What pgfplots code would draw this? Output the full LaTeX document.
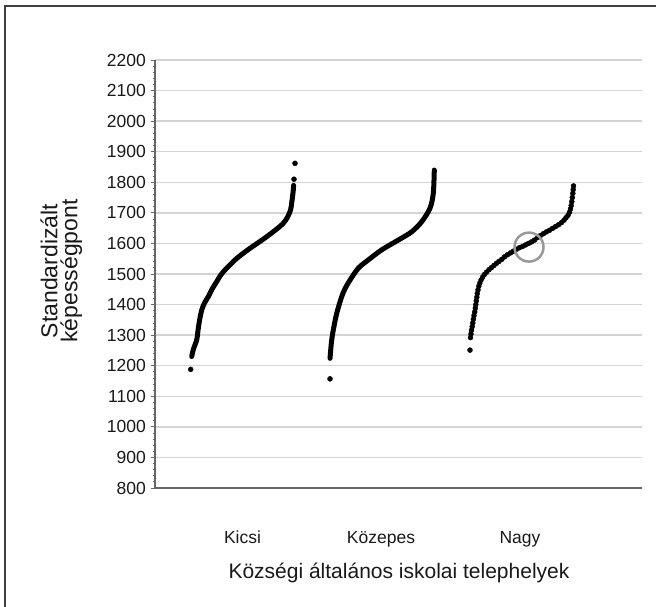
\documentclass[border=0pt]{standalone}
\usepackage{fontspec}
\setmainfont{Liberation Sans}
\usepackage{pgfplots}
\pgfplotsset{compat=1.18}

\begin{document}
\begin{tikzpicture}
\path[use as bounding box] (0pt,0pt) rectangle (656pt,607pt);
% outer frame (left and top edges only are visible)
\draw[line width=2pt, black!75] (5pt,0pt) -- (5pt,600.5pt) -- (656pt,600.5pt);
\begin{axis}[
  at={(155pt,119pt)}, anchor=south west,
  width=487pt, height=428pt, scale only axis,
  xmin=0, xmax=487, ymin=800, ymax=2200,
  axis x line*=bottom, axis y line*=left,
  axis line style={black!60, line width=1.2pt},
  ytick distance=100, minor y tick num=4,
  tick align=outside,
  major tick length=4pt, minor tick length=2.5pt,
  every tick/.style={black!60, line width=0.8pt},
  ymajorgrids,
  major grid style={draw=black!17, line width=1.5pt},
  xtick={87.5,226,365},
  xticklabels={Kicsi,Közepes,Nagy},
  xtick style={draw=none},
  /pgf/number format/assume math mode=true,
  /pgf/number format/1000 sep={},
  yticklabel style={font=\fontsize{17.5}{17.5}\selectfont, text=black!90, inner sep=0pt, xshift=-5pt},
  xticklabel style={font=\fontsize{17.5}{17.5}\selectfont, text=black!90, anchor=base, yshift=-52pt},
  xlabel={Községi általános iskolai telephelyek},
  xlabel style={font=\fontsize{21}{21}\selectfont, text=black!90, at={(axis description cs:0.501,-0.2103)}, anchor=base},
  ylabel={Standardizált\\[-3pt]képességpont},
  ylabel style={font=\fontsize{23}{23}\selectfont, text=black!90, align=center, at={(axis description cs:-0.1924,0.507)}, anchor=center},
  clip=false,
]
% Kicsi
\addplot[black, line width=5pt, smooth, line cap=round] coordinates {
(36.7,1230)(38.5,1255)(41.7,1284)(43,1315)(44.3,1344)(46.7,1382)(49.5,1405)
(53.3,1426)(57,1450)(61.7,1475)(66,1498)(71.7,1519)(81.7,1551)(95,1584)
(111.7,1622)(128.3,1666)(135,1704)(137,1740)(138.3,1775)(138.6,1790)
};
\addplot[only marks, mark=*, mark size=2.5pt, black] coordinates {
(35.7,1188)(139,1810)(140,1862)
};
% Közepes
\addplot[black, line width=5pt, smooth, line cap=round] coordinates {
(175,1224)(176,1262)(176.7,1284)(178.3,1317)(181.7,1371)(186.7,1426)
(190.5,1455)(195,1480)(203.3,1519)(213.3,1546)(226.7,1579)(243.3,1611)
(256.7,1638)(266.7,1671)(275,1715)(278.3,1764)(279.3,1840)
};
\addplot[only marks, mark=*, mark size=2.5pt, black] coordinates {
(175,1157)
};
% Nagy
\addplot[only marks, mark=*, mark size=2.5pt, black] coordinates {
(315,1251)
(315.5,1292)(316,1304)(316.5,1316)(317.2,1328)(317.8,1340)(318.4,1352)
(319,1364)(319.7,1376)(320.3,1388)(320.8,1400)(321.3,1412)(321.8,1424)
(322.3,1436)(323,1448)(323.8,1460)(324.8,1470)(326,1480)(327.5,1489)
(329.3,1498)(331.5,1506)(334,1514)(336.5,1521)(339,1528)(341.5,1535)
(344,1541)(346.8,1548)(349.5,1556)(352.5,1563)(355.5,1569)(358.5,1575)
(361.5,1581)(364.5,1586)(367.5,1590)(370.5,1595)(373.5,1600)(376.5,1605)
(379.5,1611)(382.5,1619)(385.5,1626)(388.5,1632)(391.5,1638)(394.5,1643)
(397.5,1649)(400.5,1655)(403.5,1661)(406.5,1668)(409,1676)(411,1684)
(413,1692)(414.5,1702)(415.5,1713)(416.2,1724)(416.8,1737)(417.3,1750)
(417.8,1764)(418.2,1776)(418.5,1788)
};
% highlighted school
\addplot[only marks, mark=o, mark size=14.5pt, black!40, line width=2.5pt] coordinates {
(374,1588)
};
\end{axis}
\end{tikzpicture}
\end{document}
